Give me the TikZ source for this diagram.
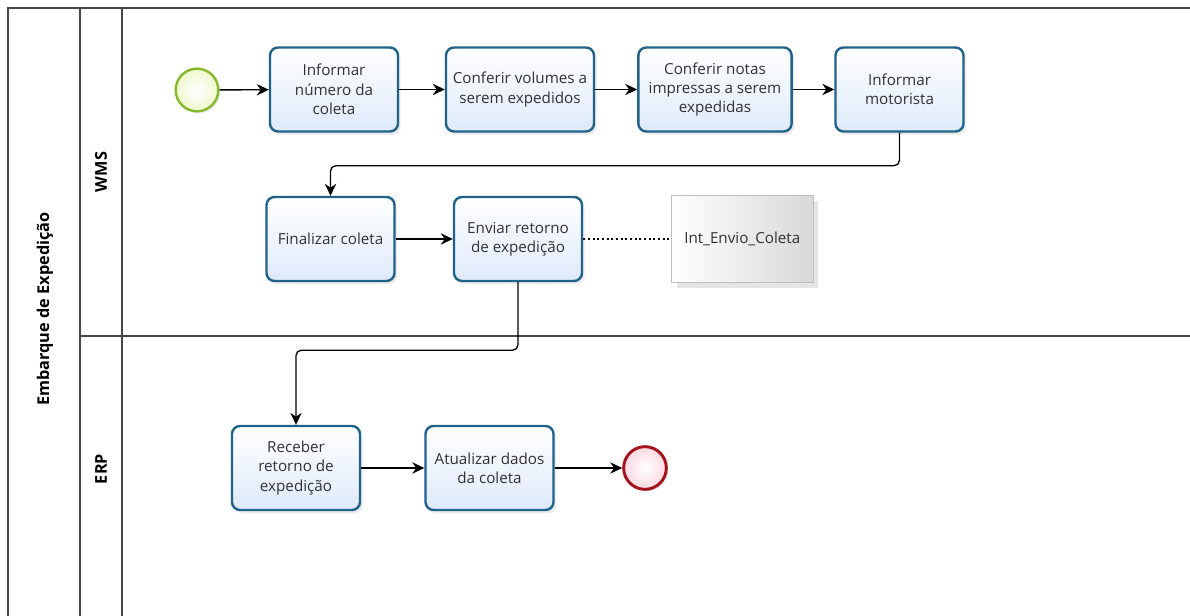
\documentclass[tikz,border=0pt]{standalone}
\usepackage{fontspec}
\setmainfont{Open Sans}
\usetikzlibrary{arrows.meta,positioning,shadows,calc}
\definecolor{taskblue}{RGB}{31,98,138}
\definecolor{taskfill}{RGB}{222,234,250}
\definecolor{startgreen}{RGB}{134,186,44}
\definecolor{startfill}{RGB}{238,248,206}
\definecolor{endred}{RGB}{164,18,30}
\definecolor{endfill}{RGB}{250,218,224}
\definecolor{poolgray}{RGB}{70,70,70}
\definecolor{textgray}{RGB}{50,50,50}
\tikzset{
    task/.style={rectangle, draw=taskblue, line width=1.8pt, rounded corners=6pt, top color=white, bottom color=taskfill, minimum width=96pt, minimum height=63pt, align=center, text=textgray, font=\fontsize{11.4}{14.5}\selectfont, drop shadow={shadow xshift=2pt, shadow yshift=-2.5pt, opacity=0.15}},
    startev/.style={circle, draw=startgreen, line width=1.8pt, inner color=white, outer color=startfill, minimum size=32pt, drop shadow={shadow xshift=1.5pt, shadow yshift=-1.5pt, opacity=0.15}},
    endev/.style={circle, draw=endred, line width=2.2pt, inner color=white, outer color=endfill, minimum size=32pt, drop shadow={shadow xshift=1.5pt, shadow yshift=-1.5pt, opacity=0.15}},
    dataobj/.style={rectangle, draw=gray!50, line width=0.6pt, left color=white, right color=gray!30, minimum width=106pt, minimum height=65pt, text=textgray, font=\fontsize{11.4}{14.5}\selectfont, drop shadow={shadow xshift=4pt, shadow yshift=-4pt, opacity=0.2}},
    line/.style={draw, line width=1pt, rounded corners=4pt, -{Stealth[length=9pt,width=8.5pt]}},
    assoc/.style={draw, line width=1.5pt, dotted},
    lanetitle/.style={rotate=90, font=\fontsize{12.2}{14}\selectfont\bfseries, text=black},
    poolline/.style={draw=poolgray, line width=0.8pt}
}
\begin{document}
\begin{tikzpicture}[x=0.75pt, y=-0.75pt]
    \useasboundingbox (0,0) rectangle (1190,616);
    \fill [white] (0,0) rectangle (1190,616);

    % Pool and lanes
    \path [poolline] (8,616) -- (8,8) -- (1190,8);
    \path [poolline] (80,8) -- (80,616);
    \path [poolline] (122,8) -- (122,616);
    \path [poolline] (80,336) -- (1190,336);
    \node [lanetitle] (pool) at (45,309) {Embarque de Expedição};
    \node [lanetitle] (wms) at (101,172) {WMS};
    \node [lanetitle] (erp) at (101,469) {ERP};

    % WMS lane, first row
    \node [startev] (start) at (197,90) {};
    \node [task] (informar) at (334,89.5) {Informar\\número da\\coleta};
    \node [task, minimum width=111pt] (volumes) at (520,89.5) {Conferir volumes a\\serem expedidos};
    \node [task, minimum width=115pt] (notas) at (715,89.5) {Conferir notas\\impressas a serem\\expedidas};
    \node [task] (motorista) at (899.5,89.5) {Informar\\motorista};

    % WMS lane, second row
    \node [task] (finalizar) at (330.5,239) {Finalizar coleta};
    \node [task] (enviar) at (518,239) {Enviar retorno\\de expedição};
    \node [dataobj, right=66pt of enviar] (intenvio) {Int\_Envio\_Coleta};

    % ERP lane
    \node [task] (receber) at (296,468) {Receber\\retorno de\\expedição};
    \node [task] (atualizar) at (489.5,468) {Atualizar dados\\da coleta};
    \node [endev] (fim) at (645,468) {};

    % Connections
    \path [line] (start) -- (informar);
    \path [line] (informar) -- (volumes);
    \path [line] (volumes) -- (notas);
    \path [line] (notas) -- (motorista);
    \path [line] (motorista.south) -- ++(0,33) -| (finalizar.north);
    \path [line] (finalizar) -- (enviar);
    \path [assoc] (enviar) -- (intenvio);
    \path [line] (enviar.south) -- ++(0,68) -| (receber.north);
    \path [line] (receber) -- (atualizar);
    \path [line] (atualizar) -- (fim);
\end{tikzpicture}
\end{document}
